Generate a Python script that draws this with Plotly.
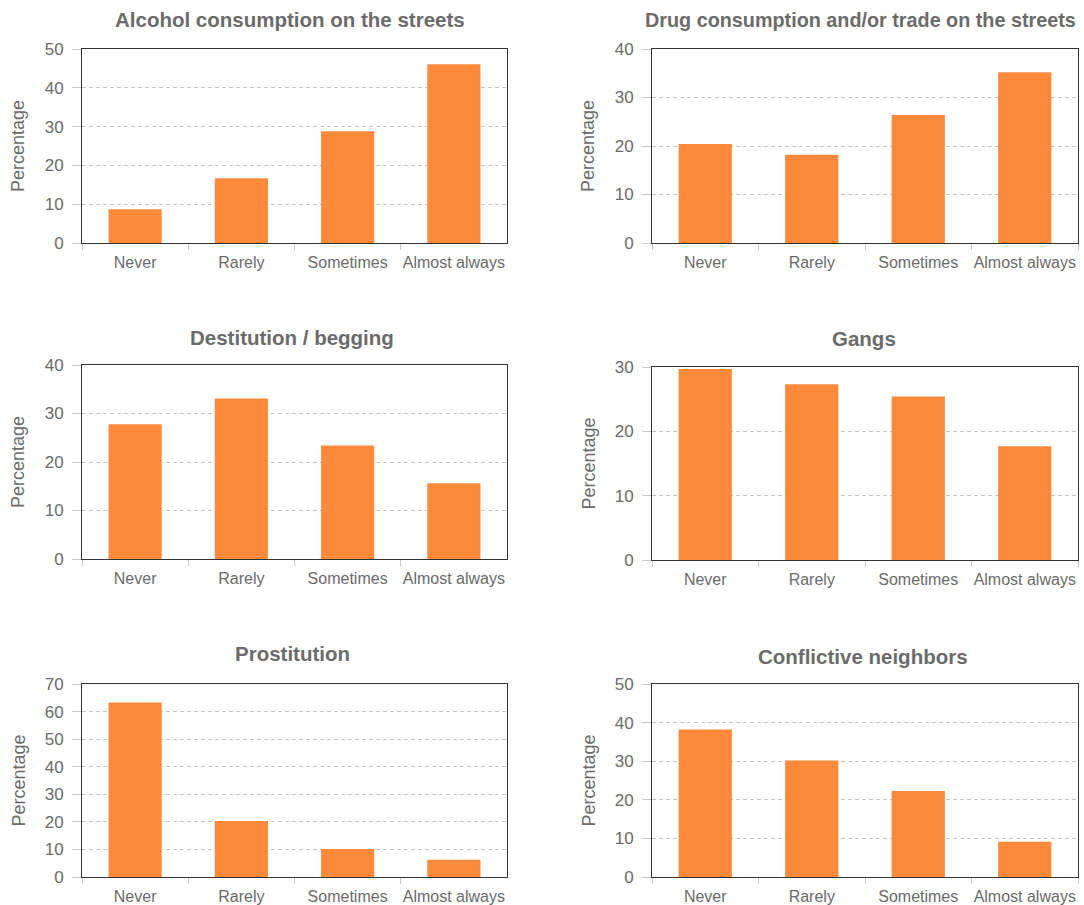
import plotly.graph_objects as go

categories = ["Never", "Rarely", "Sometimes", "Almost always"]

alcohol = [8.7, 16.7, 28.8, 46.1]
drugs = [20.4, 18.2, 26.4, 35.2]
destitution = [27.8, 33.1, 23.4, 15.6]
gangs = [29.7, 27.3, 25.4, 17.7]
prostitution = [63.3, 20.3, 10.2, 6.3]
neighbors = [38.2, 30.2, 22.3, 9.1]

titles = [
    "Alcohol consumption on the streets",
    "Drug consumption and/or trade on the streets",
    "Destitution / begging",
    "Gangs",
    "Prostitution",
    "Conflictive neighbors",
]
y_max = [50, 40, 40, 30, 70, 50]
series = [alcohol, drugs, destitution, gangs, prostitution, neighbors]

W, H = 1084, 905
# plot boxes in pixels: (left, right, top, bottom)
boxes = [
    (82, 507, 49, 243),
    (652, 1078, 49, 243),
    (82, 507, 365, 559),
    (652, 1078, 367, 560),
    (82, 507, 684, 877),
    (652, 1078, 684, 877),
]
title_y = [20, 20, 337, 338, 653, 656]
title_x_center = [290, 860, 292, 864, 292, 863]
title_size = [20.5, 19.8, 20.5, 20.5, 20.5, 20.5]

BAR = "#fd8a3b"
TXT = "#6b6b6b"
FONT = "Liberation Sans, Arial, sans-serif"

fig = go.Figure()
annotations = []
layout = {}
for i, (vals, t, ym, box) in enumerate(zip(series, titles, y_max, boxes)):
    n = i + 1
    xa = "x" if n == 1 else f"x{n}"
    ya = "y" if n == 1 else f"y{n}"
    fig.add_trace(go.Bar(
        x=categories, y=vals, xaxis=xa, yaxis=ya,
        marker=dict(color=BAR, line=dict(width=0)),
        width=0.5, showlegend=False, hoverinfo="x+y",
    ))
    l, r, tp, b = box
    xd = [l / W, r / W]
    yd = [1 - b / H, 1 - tp / H]
    layout[f"xaxis{'' if n == 1 else n}"] = dict(
        domain=xd, anchor=ya, type="category", range=[-0.5, 3.5],
        showline=True, linecolor="#333333", linewidth=1, mirror=True,
        ticks="outside", tickson="boundaries", ticklen=6, tickcolor="#c8c8c8",
        tickangle=0, automargin=False, ticklabelstandoff=5,
        tickfont=dict(size=16, color=TXT, family=FONT),
        showgrid=False, zeroline=False, fixedrange=True,
    )
    layout[f"yaxis{'' if n == 1 else n}"] = dict(
        domain=yd, anchor=xa, range=[0, ym], dtick=10, automargin=False,
        showline=True, linecolor="#333333", linewidth=1, mirror=True,
        ticks="outside", ticklen=9, tickcolor="#c8c8c8", ticklabelstandoff=5,
        tickfont=dict(size=17, color=TXT, family=FONT),
        showgrid=True, gridcolor="#c4c4c4", griddash="4px,3px", gridwidth=1,
        zeroline=False, fixedrange=True,
    )
    annotations.append(dict(
        text=f"<b>{t}</b>", x=title_x_center[i] / W, y=1 - title_y[i] / H,
        xref="paper", yref="paper", xanchor="center", yanchor="middle",
        showarrow=False, font=dict(size=title_size[i], color=TXT, family=FONT),
    ))
    annotations.append(dict(
        text="Percentage", x=(l - 64) / W, y=1 - ((tp + b) / 2) / H,
        xref="paper", yref="paper", xanchor="center", yanchor="middle",
        textangle=-90, showarrow=False,
        font=dict(size=18, color=TXT, family=FONT),
    ))

fig.update_layout(
    width=W, height=H,
    margin=dict(l=0, r=0, t=0, b=0),
    paper_bgcolor="white", plot_bgcolor="white",
    bargap=0.5,
    annotations=annotations,
    font=dict(family=FONT, color=TXT),
    **layout,
)
fig.write_html(
    "out.html",
    config={"displayModeBar": False},
    post_script="document.body.style.margin='0';document.body.style.padding='0';",
)
